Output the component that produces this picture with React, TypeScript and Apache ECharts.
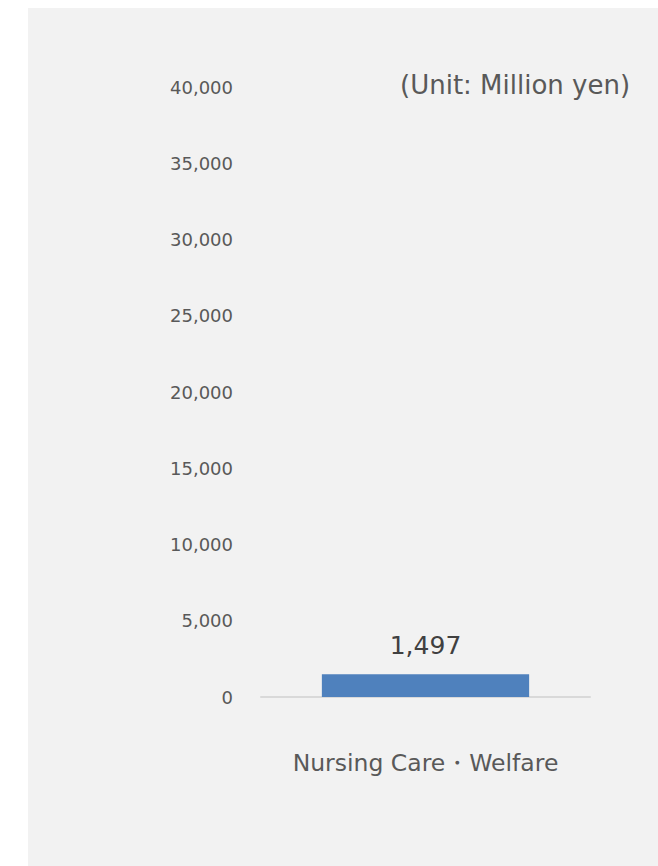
import React, { useEffect, useRef } from "react";
import * as echarts from "echarts";

const categories = ["Nursing Care・Welfare"];
const values = [1497];
const yTicks = [0, 5000, 10000, 15000, 20000, 25000, 30000, 35000, 40000];
const unitLabel = "(Unit: Million yen)";

export default function App() {
  const ref = useRef<HTMLDivElement>(null);
  useEffect(() => {
    if (!ref.current) return;
    const chart = echarts.init(ref.current, undefined, { renderer: "svg" });
    const font = "Verdana, 'DejaVu Sans', sans-serif";
    chart.setOption({
      animation: false,
      backgroundColor: "#ffffff",
      textStyle: { fontFamily: font },
      graphic: [
        {
          type: "rect",
          shape: { x: 28, y: 8, width: 640, height: 870 },
          style: { fill: "#f2f2f2" },
          z: -10,
        },
        {
          type: "text",
          left: 400,
          top: 72,
          style: {
            text: unitLabel,
            fontSize: 26,
            fill: "#595959",
            fontFamily: font,
          },
        },
      ],
      grid: { left: 261, right: 68, top: 87, bottom: 169 },
      xAxis: {
        type: "category",
        data: categories,
        axisLine: { lineStyle: { color: "#d9d9d9", width: 2 } },
        axisTick: { show: false },
        axisLabel: { color: "#595959", fontSize: 23.5, margin: 54, fontFamily: font },
      },
      yAxis: {
        type: "value",
        min: yTicks[0],
        max: yTicks[yTicks.length - 1],
        interval: 5000,
        splitLine: { show: false },
        axisLine: { show: false },
        axisTick: { show: false },
        axisLabel: {
          color: "#595959",
          fontSize: 18,
          margin: 28,
          fontFamily: font,
          formatter: (v: number) => v.toLocaleString("en-US"),
        },
      },
      series: [
        {
          type: "bar",
          data: values,
          barWidth: "63%",
          itemStyle: { color: "#4f81bd" },
          label: {
            show: true,
            position: "top",
            distance: 16,
            color: "#404040",
            fontSize: 25,
            fontFamily: font,
            formatter: (p: any) => Number(p.value).toLocaleString("en-US"),
          },
        },
      ],
    });
    return () => chart.dispose();
  }, []);
  return (
    <div
      ref={ref}
      style={{ position: "fixed", left: 0, top: 0, width: 658, height: 866 }}
    />
  );
}
